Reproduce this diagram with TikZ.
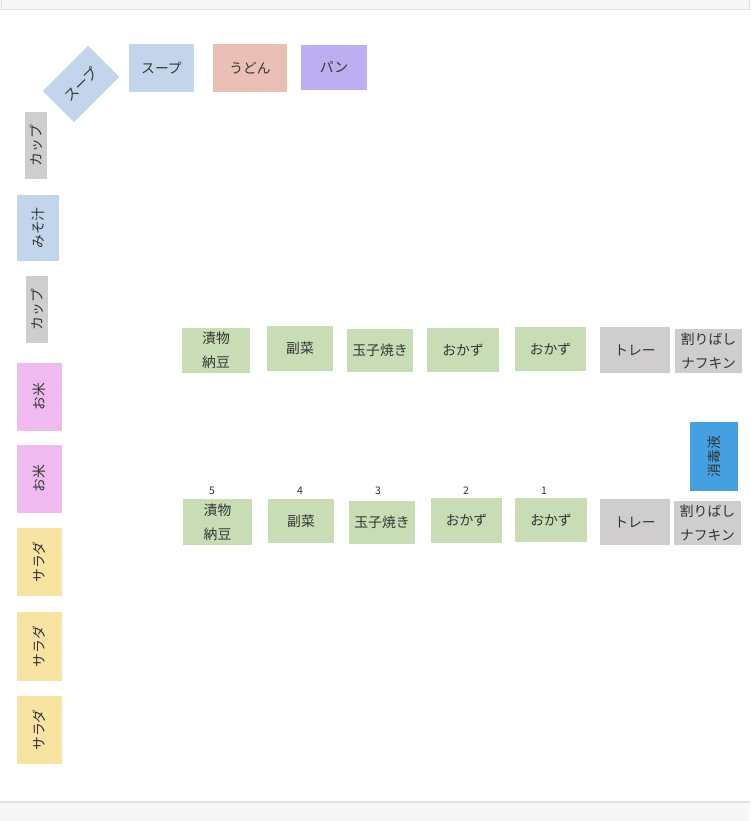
\documentclass[tikz,border=0pt]{standalone}
\usepackage{fontspec}
\newfontfamily\jp{Noto Sans CJK JP}
\definecolor{ink}{RGB}{51,51,51}
\definecolor{sidegreen}{RGB}{200,221,181}
\definecolor{traygray}{RGB}{207,205,206}
\definecolor{soupblue}{RGB}{194,213,234}
\definecolor{udonred}{RGB}{234,192,182}
\definecolor{panpurple}{RGB}{188,174,240}
\definecolor{ricepink}{RGB}{238,186,240}
\definecolor{saladyellow}{RGB}{247,228,163}
\definecolor{disinfblue}{RGB}{68,160,224}
\definecolor{bandgray}{RGB}{247,247,247}
\definecolor{bandline}{RGB}{226,226,226}
\tikzset{
  dims/.style 2 args={minimum width=#1pt, minimum height=#2pt},
  box/.style={inner sep=0pt, align=center, text=ink, font=\jp\fontsize{13.8}{24}\selectfont},
  side/.style={box, fill=sidegreen},
  tray/.style={box, fill=traygray},
  soup/.style={box, fill=soupblue},
  rice/.style={box, fill=ricepink, rotate=90},
  salad/.style={box, fill=saladyellow, rotate=90},
  num/.style={inner sep=0pt, text=ink, font=\jp\fontsize{10.5}{12}\selectfont}
}
\begin{document}
\begin{tikzpicture}[x=1pt, y=1pt]
    \useasboundingbox (0,0) rectangle (750,821);
    \fill[white] (0,0) rectangle (750,821);
    \fill[bandgray] (0,812) rectangle (750,821);
    \draw[bandline] (1,821) -- (1,812) -- (749,812) -- (749,821);
    \fill[bandgray] (0,0) rectangle (750,19);
    \draw[bandline, line width=1.5pt] (0,19) -- (750,19);

    \node[soup, dims={64}{44}, rotate=45] (soupdiag) at (81,737) {スープ};
    \node[soup, dims={65}{48}] (soup) at (161.5,753) {スープ};
    \node[box, fill=udonred, dims={74}{48}] (udon) at (250,753) {うどん};
    \node[box, fill=panpurple, dims={66}{45}] (pan) at (334,753.5) {パン};

    \node[tray, dims={67}{22}, rotate=90] (cup1) at (36,675.5) {カップ};
    \node[soup, dims={66}{42}, rotate=90] (miso) at (38,593) {みそ汁};
    \node[tray, dims={67}{22}, rotate=90] (cup2) at (37,511.5) {カップ};
    \node[rice, dims={68}{45}] (rice1) at (39.5,424) {お米};
    \node[rice, dims={68}{45}] (rice2) at (39.5,342) {お米};
    \node[salad, dims={68}{45}] (salad1) at (39.5,259) {サラダ};
    \node[salad, dims={69}{45}] (salad2) at (39.5,174.5) {サラダ};
    \node[salad, dims={68}{45}] (salad3) at (39.5,91) {サラダ};

    \node[side, dims={68}{45}] (pickleA) at (216,470.5) {漬物\\納豆};
    \node[side, dims={66}{45}] (fukusaiA) at (300,472.5) {副菜};
    \node[side, dims={66}{43}] (tamagoA) at (380,470.5) {玉子焼き};
    \node[side, dims={72}{44}] (okazuA2) at (463,471) {おかず};
    \node[side, dims={71}{44}] (okazuA1) at (550.5,472) {おかず};
    \node[tray, dims={70}{46}] (trayA) at (635,471) {トレー};
    \node[tray, dims={67}{44}] (hashiA) at (708.5,470) {割りばし\\ナフキン};

    \node[box, fill=disinfblue, dims={69}{48}, rotate=90] (disinf) at (714,364.5) {消毒液};

    \node[side, dims={69}{46}] (pickleB) at (217.5,299) {漬物\\納豆};
    \node[side, dims={66}{44}] (fukusaiB) at (301,300) {副菜};
    \node[side, dims={66}{43}] (tamagoB) at (382,298.5) {玉子焼き};
    \node[side, dims={71}{45}] (okazuB2) at (466.5,300.5) {おかず};
    \node[side, dims={72}{44}] (okazuB1) at (551,301) {おかず};
    \node[tray, dims={70}{46}] (trayB) at (635,299) {トレー};
    \node[tray, dims={67}{44}] (hashiB) at (707.5,298) {割りばし\\ナフキン};

    \node[num] (n5) at (212,330) {5};
    \node[num] (n4) at (300,330) {4};
    \node[num] (n3) at (378,330) {3};
    \node[num] (n2) at (466,330) {2};
    \node[num] (n1) at (544,330) {1};
\end{tikzpicture}
\end{document}
